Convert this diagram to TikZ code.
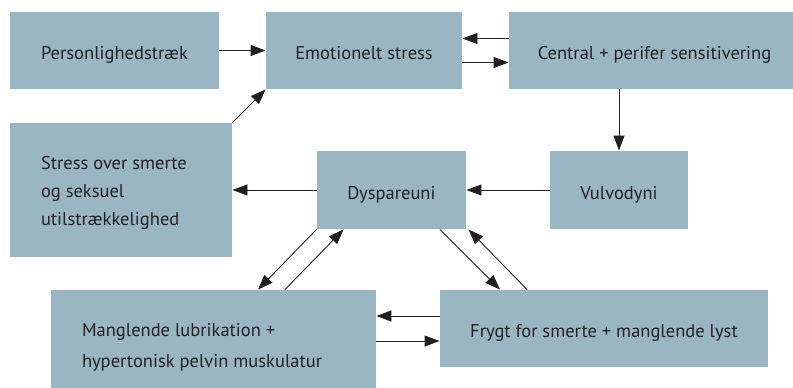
\documentclass[tikz,border=0pt]{standalone}
\usepackage{fontspec}
\setmainfont{PT Sans}
\usetikzlibrary{arrows.meta}
\definecolor{boxblue}{RGB}{155,182,195}
\definecolor{inkgrey}{RGB}{35,32,34}
\tikzset{
  boks/.style={fill=boxblue,inner sep=0pt,text=inkgrey,align=center,text height=18pt,text depth=0pt},
  tekst/.style={inner sep=0pt,text=inkgrey,align=left,anchor=base west}
}
\begin{document}
\begin{tikzpicture}[>={Triangle[length=15pt,width=11pt]},x=1pt,y=-1pt,font=\fontsize{18.5}{28}\selectfont,line width=0.9pt]
  \clip (0,0) rectangle (793,388);
  % kasser
  \node[boks,minimum width=209pt,minimum height=77pt] (pers) at (114.5,50.5) {Personlighedstræk};
  \node[boks,minimum width=196pt,minimum height=77pt] (emo) at (364,50.5) {Emotionelt stress};
  \node[boks,minimum width=291pt,minimum height=77pt] (central) at (654.5,50.5) {Central + perifer sensitivering};
  \node[boks,minimum width=222pt,minimum height=134pt] (stress) at (121,190) {};
  \node[tekst] (stresstekst) at ([xshift=31pt,yshift=-103pt]stress.north west) {Stress over smerte\\og seksuel\\utilstrækkelighed};
  \node[boks,minimum width=149pt,minimum height=78pt] (dysp) at (391.5,190) {Dyspareuni};
  \node[boks,minimum width=138pt,minimum height=78pt] (vulvo) at (619,190) {Vulvodyni};
  \node[boks,minimum width=325pt,minimum height=114pt] (mangl) at (213.5,347) {};
  \node[tekst,font=\fontsize{18.5}{31}\selectfont] (mangltekst) at ([xshift=31pt,yshift=-78pt]mangl.north west) {Manglende lubrikation +\\hypertonisk pelvin muskulatur};
  \node[boks,minimum width=328pt,minimum height=77pt] (frygt) at (604,328.5) {Frygt for smerte + manglende lyst};
  % pile
  \draw[->,draw=inkgrey] (pers.east) -- (emo.west);
  \draw[->,draw=inkgrey] ([yshift=12pt]central.west) -- ([yshift=12pt]emo.east);
  \draw[->,draw=inkgrey] ([yshift=-12pt]emo.east) -- ([yshift=-12pt]central.west);
  \draw[->,draw=inkgrey] (central.south -| vulvo.north) -- (vulvo.north);
  \draw[->,draw=inkgrey] (vulvo.west) -- (dysp.east);
  \draw[->,draw=inkgrey] (dysp.west) -- (stress.east);
  \draw[->,draw=inkgrey] (stress.north east) -- (emo.south west);
  \draw[->,draw=inkgrey] (dysp.south west) -- ([xshift=44.5pt]mangl.north);
  \draw[->,draw=inkgrey] ([xshift=71.5pt]mangl.north) -- ([xshift=27pt]dysp.south west);
  \draw[->,draw=inkgrey] ([xshift=48.5pt]dysp.south) -- ([xshift=-104pt]frygt.north);
  \draw[->,draw=inkgrey] ([xshift=-77pt]frygt.north) -- ([xshift=2pt]dysp.south east);
  \draw[->,draw=inkgrey] ([yshift=12.5pt]frygt.west) -- ([yshift=12.5pt]frygt.west -| mangl.east);
  \draw[->,draw=inkgrey] ([yshift=-12.5pt]frygt.west -| mangl.east) -- ([yshift=-12.5pt]frygt.west);
\end{tikzpicture}
\end{document}
